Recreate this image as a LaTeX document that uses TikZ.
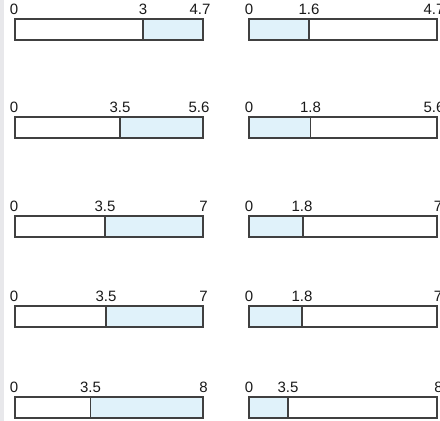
\documentclass[tikz,border=0pt]{standalone}
\usepackage{fontspec}
\setmainfont{Liberation Sans}
\definecolor{barfill}{RGB}{224,242,250}
\definecolor{barline}{RGB}{64,64,64}
\definecolor{stripgray}{RGB}{232,232,235}
\tikzset{
  lbl/.style={anchor=base, font=\fontsize{15}{17}\selectfont, inner sep=0pt, text=black!90},
  barbox/.style={draw=barline, line width=1.2pt},
}
\newcommand\mybar[6]{%
  \coordinate (#1-tl) at (#2,{-(#5)});
  \coordinate (#1-br) at (#4,{-(#5+21)});
  \coordinate (#1-dt) at (#3,{-(#5)});
  \coordinate (#1-db) at (#3,{-(#5+21)});
  \ifx l#6
    \fill[barfill] (#1-tl) rectangle (#1-db);
  \else
    \fill[barfill] (#1-dt) rectangle (#1-br);
  \fi
  \draw[barbox] (#1-tl) rectangle (#1-br);
  \draw[barbox] (#1-dt) -- (#1-db);
}
\newcommand\mylabels[8]{%
  \node[lbl] (#1-l0) at (#3,{-(#2-4.5)}) {#4};
  \node[lbl] (#1-ld) at (#5,{-(#2-4.5)}) {#6};
  \node[lbl] (#1-l1) at (#7,{-(#2-4.5)}) {#8};
}
\begin{document}
\begin{tikzpicture}[x=1pt,y=1pt]
  \useasboundingbox (0,0) rectangle (440,-421);
  \clip (0,0) rectangle (440,-421);
  \fill[stripgray] (0,0) rectangle (4,-421);
  % row 1
  \mybar{r1a}{15}{143}{203}{19}{r}
  \mylabels{r1a}{19}{14}{0}{143}{3}{200}{4.7}
  \mybar{r1b}{249}{309}{437}{19}{l}
  \mylabels{r1b}{19}{249}{0}{309}{1.6}{434}{4.7}
  % row 2
  \mybar{r2a}{15}{120}{203}{117}{r}
  \mylabels{r2a}{117}{14}{0}{120}{3.5}{199}{5.6}
  \mybar{r2b}{249}{310.5}{437}{117}{l}
  \mylabels{r2b}{117}{249}{0}{310.5}{1.8}{434}{5.6}
  % row 3
  \mybar{r3a}{15}{105}{203}{216}{r}
  \mylabels{r3a}{216}{14}{0}{105}{3.5}{203.5}{7}
  \mybar{r3b}{249}{303}{437}{216}{l}
  \mylabels{r3b}{216}{249}{0}{302}{1.8}{438}{7}
  % row 4
  \mybar{r4a}{15}{106}{203}{306}{r}
  \mylabels{r4a}{306}{14}{0}{106}{3.5}{203.5}{7}
  \mybar{r4b}{249}{302}{437}{306}{l}
  \mylabels{r4b}{306}{249}{0}{302}{1.8}{438}{7}
  % row 5
  \mybar{r5a}{15}{90.5}{203}{397}{r}
  \mylabels{r5a}{397}{14}{0}{90.5}{3.5}{203.5}{8}
  \mybar{r5b}{249}{288}{437}{397}{l}
  \mylabels{r5b}{397}{249}{0}{288}{3.5}{438.5}{8}
\end{tikzpicture}
\end{document}
